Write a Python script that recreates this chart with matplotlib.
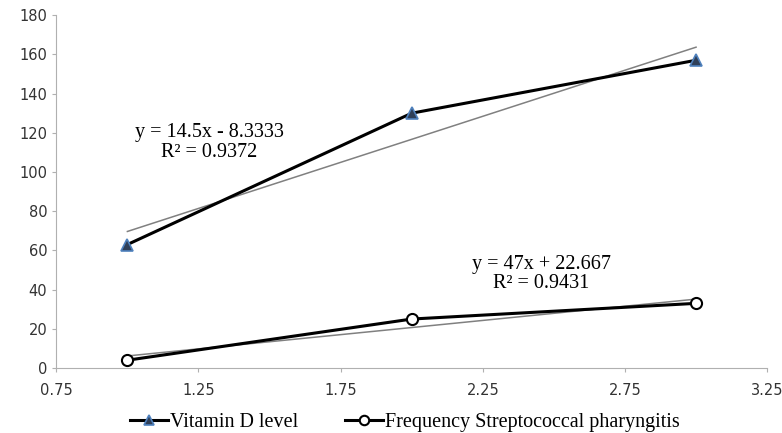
import numpy as np
import matplotlib.pyplot as plt

# data
x = [1, 2, 3]
vitamin_d = [63, 130, 157]
strep_freq = [4, 25, 33]
x_ticks = [0.75, 1.25, 1.75, 2.25, 2.75, 3.25]
y_ticks = list(range(0, 181, 20))
eq_labels = ['y = 14.5x - 8.3333\nR² = 0.9372', 'y = 47x + 22.667\nR² = 0.9431']
series_names = ['Vitamin D level', 'Frequency Streptococcal pharyngitis']

serif = ['Liberation Serif', 'DejaVu Serif']

fig = plt.figure(figsize=(7.82, 4.33), dpi=100)
ax = fig.add_axes([0.072, 0.150, 0.909, 0.815])

# trend lines (linear fit)
xs = np.array(x, dtype=float)
for ys in (vitamin_d, strep_freq):
    k, b = np.polyfit(xs, ys, 1)
    ax.plot(xs, k * xs + b, color='#808080', lw=1.1, zorder=2)

ax.plot(x, vitamin_d, color='black', lw=2.2, marker='^', ms=9,
        markerfacecolor='#2f3f58', markeredgecolor='#4f81bd', markeredgewidth=1.2,
        label=series_names[0], zorder=3)
ax.plot(x, strep_freq, color='black', lw=2.2, marker='o', ms=8,
        markerfacecolor='white', markeredgecolor='black', markeredgewidth=1.5,
        label=series_names[1], zorder=3)

ax.text(1.289, 115, eq_labels[0], ha='center', va='center', fontsize=14.5,
        family=serif, linespacing=1.1)
ax.text(2.456, 48, eq_labels[1], ha='center', va='center', fontsize=14.5,
        family=serif, linespacing=0.95)

ax.set_xlim(0.75, 3.25)
ax.set_ylim(0, 180)
ax.set_xticks(x_ticks)
ax.set_xticklabels([f'{t:.2f}' for t in x_ticks])
ax.set_yticks(y_ticks)
for s in ['top', 'right']:
    ax.spines[s].set_visible(False)
for s in ['left', 'bottom']:
    ax.spines[s].set_color('#b0b0b0')
    ax.spines[s].set_linewidth(0.8)
ax.tick_params(axis='both', colors='#b0b0b0', labelcolor='#333333',
               labelsize=10.5, length=3, width=0.8)
ax.tick_params(axis='x', pad=8)

ax.legend(loc='upper center', bbox_to_anchor=(0.49, -0.075), ncol=2, frameon=False,
          prop={'family': serif, 'size': 14.5}, handlelength=1.9, handletextpad=0.1,
          columnspacing=2.3, markerscale=0.85)

fig.savefig('out.png', dpi=100)
